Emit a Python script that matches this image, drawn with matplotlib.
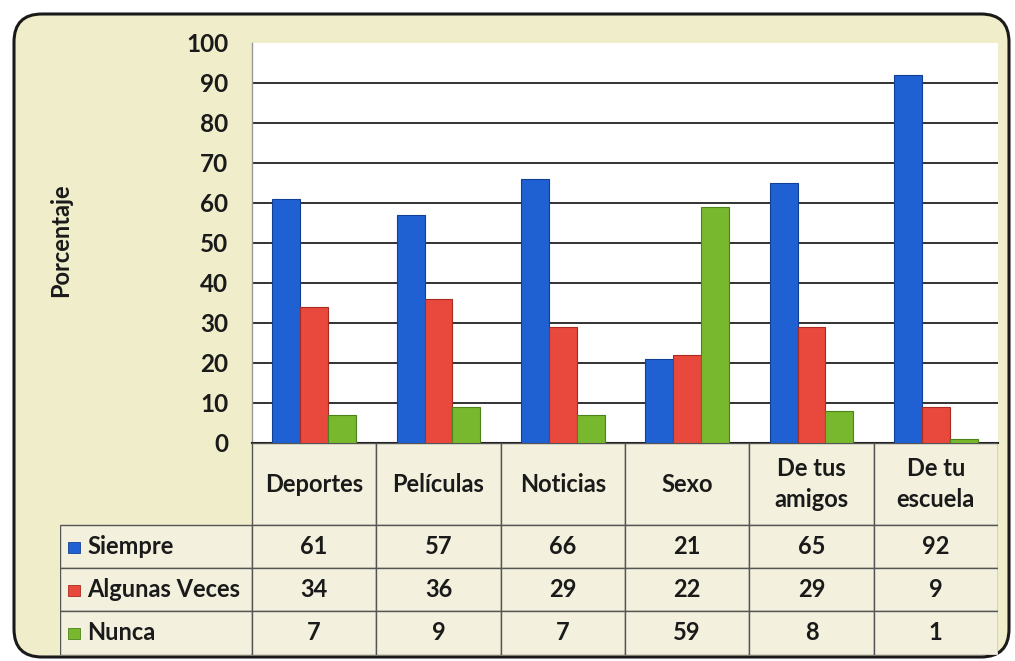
import matplotlib
matplotlib.use('Agg')
from matplotlib import pyplot as plt
from matplotlib.patches import FancyBboxPatch, Rectangle
import numpy as np

plt.rcParams['font.family'] = ['Lato', 'DejaVu Sans']

# data
categorias = ['Deportes', 'Películas', 'Noticias', 'Sexo', 'De tus\namigos', 'De tu\nescuela']
series = ['Siempre', 'Algunas Veces', 'Nunca']
siempre = [61, 57, 66, 21, 65, 92]
algunas_veces = [34, 36, 29, 22, 29, 9]
nunca = [7, 9, 7, 59, 8, 1]
valores = [siempre, algunas_veces, nunca]
colores = ['#1f60d2', '#e8493c', '#77b82e']
bordes = ['#123f96', '#a82a20', '#4d8219']

W, H = 1015, 661
fig = plt.figure(figsize=(W / 100, H / 100), dpi=100)
fig.patch.set_facecolor('white')

# background frame, drawn in pixel coordinates
bg = fig.add_axes([0, 0, 1, 1])
bg.set_xlim(0, W)
bg.set_ylim(H, 0)
bg.axis('off')
bg.add_patch(FancyBboxPatch((14, 14), 995, 643, boxstyle='round,pad=0,rounding_size=28',
                            fc='#efedca', ec='#1a1a1a', lw=2.2))


def fx(px):
    return px / W


def fh(py):
    return py / H


# main plot
left, right, top, base = 252, 998, 43, 443
ax = fig.add_axes([fx(left), 1 - fh(base), fx(right - left), fh(base - top)])
ax.set_facecolor('white')
n = len(categorias)
x = np.arange(n) + 0.5
ancho = 0.225
for i, (vals, c, b) in enumerate(zip(valores, colores, bordes)):
    ax.bar(x + (i - 1) * ancho, vals, ancho, color=c, edgecolor=b, lw=0.8, zorder=3)

ax.set_xlim(0, n)
ax.set_ylim(0, 100)
ax.set_yticks(np.arange(0, 101, 10))
ax.set_xticks([])
ax.yaxis.grid(True, color='#222222', lw=1.3, zorder=0)
ax.get_ygridlines()[-1].set_visible(False)
ax.tick_params(axis='y', length=0, pad=17, labelsize=17.5, labelcolor='#1a1a1a')
for t in ax.get_yticklabels():
    t.set_fontweight('bold')
for s in ['top', 'right']:
    ax.spines[s].set_visible(False)
ax.spines['left'].set_color('#999999')
ax.spines['left'].set_linewidth(1)
ax.spines['bottom'].set_color('#222222')
ax.spines['bottom'].set_linewidth(1.5)
ax.set_ylabel('Porcentaje', fontsize=17, fontweight='bold', color='#1a1a1a')
ax.yaxis.set_label_coords((72 - left) / (right - left), (base - 240) / (base - top))

# data table under the plot
tleft, tbottom = 60, 655
col = (right - left) / n
tab = fig.add_axes([fx(tleft), 1 - fh(tbottom), fx(right - tleft), fh(tbottom - base)])
tab.set_xlim(-(left - tleft) / col, n)
tab.set_ylim(tbottom - base, 0)
tab.axis('off')
fila_y = [0, 82, 125, 168, 212]
celda = '#f3f1dd'
linea = '#555555'
fuente = dict(fontsize=17, fontweight='bold', color='#1a1a1a')

for j, cat in enumerate(categorias):
    tab.add_patch(Rectangle((j, fila_y[0]), 1, fila_y[1] - fila_y[0], fc=celda, ec=linea, lw=1))
    tab.text(j + 0.5, (fila_y[0] + fila_y[1]) / 2, cat, ha='center', va='center',
             linespacing=1.45, **fuente)

x0 = -(left - tleft) / col
for r, (nombre, vals, c, b) in enumerate(zip(series, valores, colores, bordes)):
    y0, y1 = fila_y[r + 1], fila_y[r + 2]
    ym = (y0 + y1) / 2
    tab.add_patch(Rectangle((x0, y0), -x0, y1 - y0, fc=celda, ec=linea, lw=1))
    tab.add_patch(Rectangle((x0 + 8 / col, ym - 5), 12 / col, 11, fc=c, ec=b, lw=0.6))
    tab.text(x0 + 27 / col, ym, nombre, ha='left', va='center', **fuente)
    for j, v in enumerate(vals):
        tab.add_patch(Rectangle((j, y0), 1, y1 - y0, fc=celda, ec=linea, lw=1))
        tab.text(j + 0.5, ym, str(v), ha='center', va='center', **fuente)

plt.savefig('out.png', dpi=100)
